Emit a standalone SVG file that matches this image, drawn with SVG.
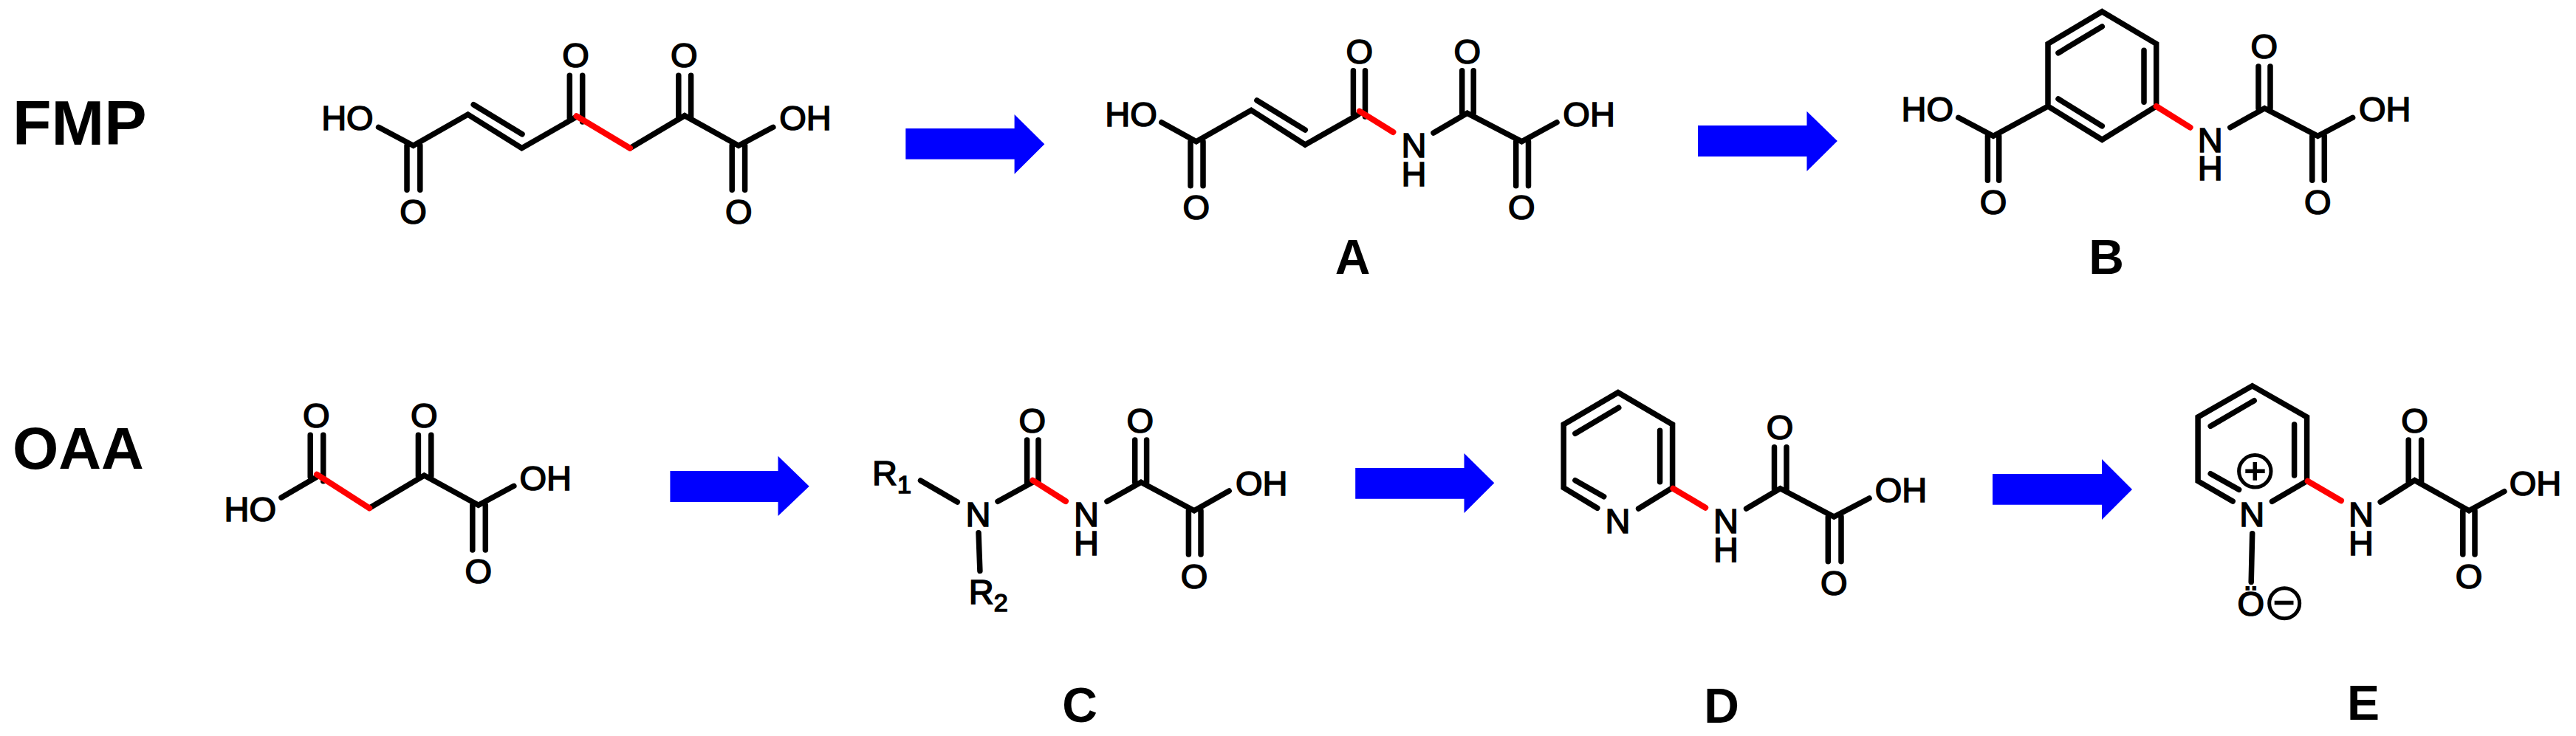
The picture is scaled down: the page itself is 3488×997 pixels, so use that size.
<svg xmlns="http://www.w3.org/2000/svg" width="3488" height="997" viewBox="0 0 3488 997">
<style>
.b{fill:none;stroke:#000;stroke-width:7.5;stroke-linecap:round;stroke-linejoin:miter}
.r{fill:none;stroke:#f00;stroke-width:8;stroke-linecap:round}
.t{font-family:"Liberation Sans",Arial,sans-serif;font-size:47px;fill:#000;stroke:#000;stroke-width:1.6;text-anchor:middle}
.s{font-family:"Liberation Sans",Arial,sans-serif;font-size:47px;fill:#000;stroke:#000;stroke-width:1.6}
.l{font-family:"Liberation Sans",Arial,sans-serif;font-size:66px;font-weight:700;fill:#000;text-anchor:middle}
.h{font-family:"Liberation Sans",Arial,sans-serif;font-weight:700;fill:#000}
.a{fill:#00f;stroke:none}
.c{fill:none;stroke:#000;stroke-width:5}
.m{fill:none;stroke:#000;stroke-width:5.5}
</style>
<rect width="3488" height="997" fill="#fff"/>
<g id="label-FMP"><text class="h" x="17" y="196" font-size="86">FMP</text></g>
<g id="label-OAA"><text class="h" x="17" y="635" font-size="80">OAA</text></g>

<g id="FMP">
<path class="b" d="M512.6 172.3L559.6 197.3L633.6 155L706.5 200.7L780.5 158.3M641.2 141.7L707 181.7M771.3 102.3V160M788.7 102.3V165M853 200.7L927 156.7L1000 197.3L1046.8 172.3M918.8 102.3V160M935.6 102.3V160M991.2 197V257.3M1008.6 197V257.3M551 197V257.3M568.8 197V257.3"/>
<path class="r" d="M780.5 157.3L853 200.7"/>
<text class="t" x="470.4" y="176">HO</text><text class="t" x="1090.4" y="176">OH</text>
<text class="t" x="779.5" y="91">O</text><text class="t" x="926.4" y="91">O</text>
<text class="t" x="559.5" y="302.5">O</text><text class="t" x="1000.4" y="302.5">O</text>
</g>

<g id="A">
<path class="b" d="M1572.8 165.7L1619.8 191.7L1694.2 149.3L1767.2 196L1839.4 155M1701.9 136L1767.2 176M1832.4 95.7V155M1848.5 95.7V158M1941 180L1986.7 153.3L2060.4 191.7L2108 165.7M1979.7 95.7V153M1995.2 95.7V153M2052.7 191.7V251.7M2069.5 191.7V251.7M1612 191.7V251.7M1629 191.7V251.7"/>
<path class="r" d="M1840.8 150.7L1886.4 179"/>
<text class="t" x="1531.5" y="170.7">HO</text><text class="t" x="2151.6" y="170.7">OH</text>
<text class="t" x="1840.8" y="86">O</text><text class="t" x="1986.7" y="86">O</text>
<text class="t" x="1619.8" y="296.5">O</text><text class="t" x="2060.4" y="296.5">O</text>
<text class="t" x="1914.5" y="212.7">N<tspan x="1914.5" dy="39">H</tspan></text>
<text class="l" x="1831.7" y="370.7">A</text>
</g>

<g id="B">
<path class="b" d="M2846.3 15.7L2919.7 59.3V144L2846.3 189.3L2773 144V59.3ZM2787 71.7L2846.3 36M2903 68.3V138.3M2787 134L2846.3 170.7M2651.8 159.3L2699 184.3L2773 144M2691.4 184.3V244.3M2706.7 184.3V244.3M3019.8 172.7L3066.3 146.7L3138.4 184.3L3185.6 159.3M3058 90V146.7M3074 90V146.7M3130.8 184.3V244.3M3147.3 184.3V244.3"/>
<path class="r" d="M2919.7 144L2965.6 172.7"/>
<text class="t" x="2609.7" y="164">HO</text><text class="t" x="3229.3" y="164">OH</text>
<text class="t" x="3065.7" y="78.5">O</text>
<text class="t" x="2699" y="290">O</text><text class="t" x="3138.4" y="290">O</text>
<text class="t" x="2992.7" y="205.7">N<tspan x="2992.7" dy="38.6">H</tspan></text>
<text class="l" x="2852" y="370.7">B</text>
</g>

<g id="OAA">
<path class="b" d="M381 674L429 646M420.2 589.3V646M437.7 589.3V651.7M500.2 688.3L574.4 644L647.8 684.3L695.8 658.3M566.4 589.3V645M583.8 589.3V645M639.8 684.3V745M657.3 684.3V745"/>
<path class="r" d="M429 642.7L500.2 688.3"/>
<text class="t" x="338.8" y="706">HO</text><text class="t" x="738.7" y="664">OH</text>
<text class="t" x="428.2" y="578.5">O</text><text class="t" x="574.4" y="578.5">O</text>
<text class="t" x="647.8" y="790">O</text>
</g>

<g id="C">
<path class="b" d="M1246.5 651L1296.3 680M1325 721.7L1326.9 773.3M1351 679.3L1398.3 653.3M1390.6 596V655M1406 596V655M1499 679.3L1545 653.3L1617 691.7L1664.2 665M1536.7 596V653.3M1552.6 596V653.3M1609.4 691.7V751M1626 691.7V751"/>
<path class="r" d="M1398.3 650.7L1443 679"/>
<text class="s" x="1181" y="657.3">R<tspan font-size="34" dy="10.4">1</tspan></text>
<text class="s" x="1311.7" y="818.3">R<tspan font-size="34" dy="9.4">2</tspan></text>
<text class="t" x="1324.6" y="712.7">N</text>
<text class="t" x="1397.7" y="585.5">O</text><text class="t" x="1543.7" y="585.5">O</text>
<text class="t" x="1471" y="712.7">N<tspan x="1471" dy="39">H</tspan></text>
<text class="t" x="1708.3" y="670.7">OH</text>
<text class="t" x="1617" y="796.5">O</text>
<text class="l" x="1462" y="978">C</text>
</g>

<g id="D">
<path class="b" d="M2218.6 689L2264.6 660.7V575L2190.9 531.7L2117.2 575V660.7L2162.8 688.3M2132.9 587.3L2191.8 552.3M2247.6 583.3V652.7M2132.9 650.7L2171.7 672.7M2364.6 689L2410.5 661.7L2483.3 700L2531 675M2402.5 605.7V663.3M2419 605.7V663.3M2475.3 700V760.7M2493 700V760.7"/>
<path class="r" d="M2265.4 661.7L2309.2 687.7"/>
<text class="t" x="2190.4" y="721.7">N</text>
<text class="t" x="2336.9" y="721.7">N<tspan x="2336.9" dy="39.3">H</tspan></text>
<text class="t" x="2410" y="595">O</text><text class="t" x="2483.3" y="806">O</text>
<text class="t" x="2574" y="680">OH</text>
<text class="l" x="2331" y="978.7">D</text>
</g>

<g id="E">
<path class="b" d="M3076.5 679.3L3123.6 651.7V565L3049.7 522.7L2976.1 565V651.7L3023.2 679M2993.2 577.3L3052.2 542.7M3106.6 575V644M2993.2 641.7L3031.6 663.3M3049.7 722.7L3048.2 788.3M3223.2 680L3269.6 650.7L3343.1 691.7L3390.9 665.7M3261.2 596V653.3M3278.6 596V653.3M3334.8 691.7V751M3351 691.7V751"/>
<path class="r" d="M3124.7 651.7L3170 678.3"/>
<text class="t" x="3049.3" y="712.7">N</text>
<circle class="c" cx="3053.3" cy="638.3" r="21.7"/><path class="m" d="M3040.3 638.3H3066.7M3053.3 626V650.7"/>
<text class="t" x="3047.9" y="833.5">Ö</text>
<circle class="c" cx="3093.2" cy="817.2" r="20.5"/><path class="m" d="M3079.7 816.5H3105.5"/>
<text class="t" x="3196.9" y="712.7">N<tspan x="3196.9" dy="39">H</tspan></text>
<text class="t" x="3269.6" y="585.5">O</text><text class="t" x="3343.1" y="796.5">O</text>
<text class="t" x="3433" y="670.7">OH</text>
<text class="l" x="3200" y="975">E</text>
</g>

<g id="connectors">
<polygon class="a" points="1226.3,174 1373.6,174 1373.6,155 1414.3,195.3 1373.6,235.7 1373.6,215.7 1226.3,215.7"/>
<polygon class="a" points="2299,170 2446.5,170 2446.5,150.7 2487.9,191 2446.5,232 2446.5,212 2299,212"/>
<polygon class="a" points="907.4,638 1053.5,638 1053.5,617.7 1095.7,658.7 1053.5,699 1053.5,680 907.4,680"/>
<polygon class="a" points="1835.2,634 1982.5,634 1982.5,614 2023.3,654.3 1982.5,695 1982.5,675.7 1835.2,675.7"/>
<polygon class="a" points="2698,642 2846,642 2846,622 2887,663 2846,704 2846,683.7 2698,683.7"/>
</g>
</svg>
